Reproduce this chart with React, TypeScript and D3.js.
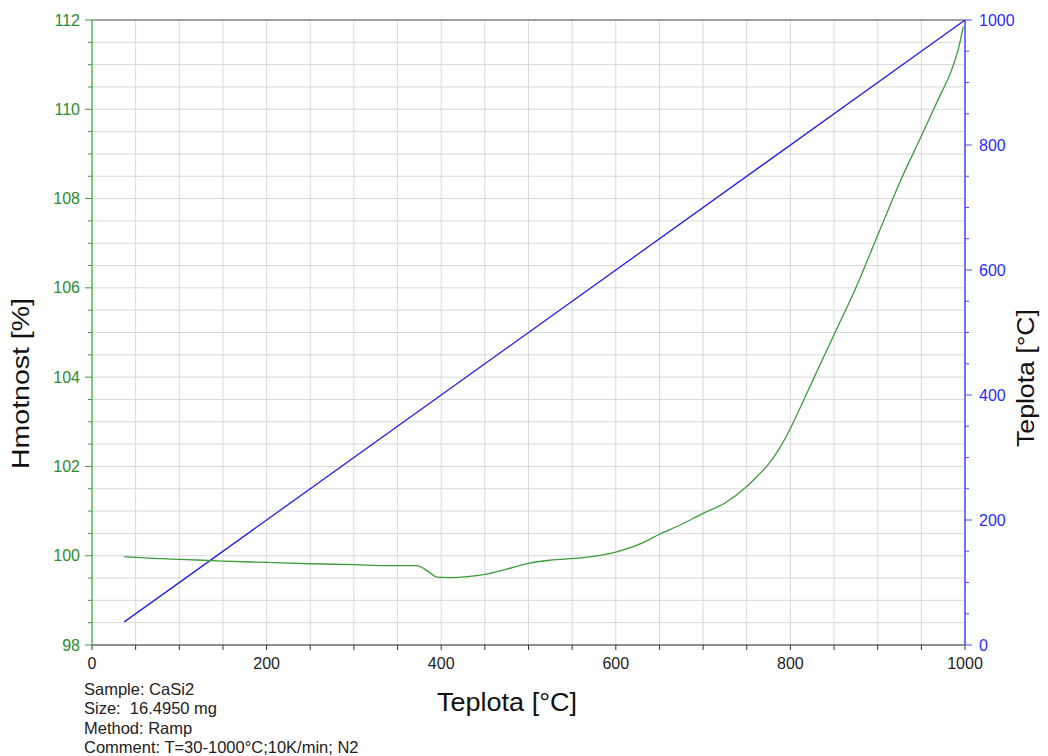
import * as d3 from "d3";

// TG curve of CaSi2 (mass % vs temperature)
const tempC = [37, 60, 100, 150, 200, 250, 300, 340, 372, 385, 395, 410, 430, 450, 475, 500, 525, 560, 600, 630, 650, 675, 700, 725, 750, 762, 775, 788, 800, 812, 825, 850, 875, 900, 925, 950, 970, 985, 993, 998];
const massPct = [99.98, 99.95, 99.92, 99.88, 99.85, 99.82, 99.8, 99.78, 99.78, 99.65, 99.52, 99.51, 99.53, 99.58, 99.7, 99.83, 99.9, 99.95, 100.08, 100.28, 100.48, 100.7, 100.95, 101.18, 101.55, 101.78, 102.05, 102.42, 102.85, 103.35, 103.9, 104.95, 106.0, 107.18, 108.35, 109.4, 110.25, 110.9, 111.4, 111.85];

// furnace temperature ramp
const rampX = [37, 1000];
const rampT = [37, 1000];

const xTicks = [0, 200, 400, 600, 800, 1000];
const massTicks = [98, 100, 102, 104, 106, 108, 110, 112];
const tempTicks = [0, 200, 400, 600, 800, 1000];

const infoLines = ["Sample: CaSi2", "Size:  16.4950 mg", "Method: Ramp", "Comment: T=30-1000°C;10K/min; N2"];

const W = 1048, H = 756;
const m = {left: 92, top: 20, right: 83, bottom: 111};

export default function App() {
    const x = d3.scaleLinear().domain([0, 1000]).range([m.left, W - m.right]);
    const yL = d3.scaleLinear().domain([98, 112]).range([H - m.bottom, m.top]);
    const yR = d3.scaleLinear().domain([0, 1000]).range([H - m.bottom, m.top]);

    const x0 = m.left, x1 = W - m.right, y0 = H - m.bottom, y1 = m.top;

    const vGrid = d3.range(0, 1001, 50);
    const hGrid = d3.range(98, 112.01, 0.5);
    const rTicks = d3.range(0, 1001, 50);

    const massLine = d3.line<number>().x((d, i) => x(tempC[i])).y(d => yL(d)).curve(d3.curveMonotoneX)(massPct) || "";
    const rampLine = d3.line<number>().x((d, i) => x(rampX[i])).y(d => yR(d))(rampT) || "";

    const font = "'Liberation Sans', Arial, sans-serif";

    return (
        <svg width={W} height={H} style={{position: "absolute", left: 0, top: 0, background: "#fff"}} fontFamily={font}>
            {/* grid */}
            {vGrid.map(v => (
                <line key={"v" + v} x1={x(v)} x2={x(v)} y1={y1} y2={y0} stroke="#d9d9d9" strokeWidth={1}/>
            ))}
            {hGrid.map(v => (
                <line key={"h" + v} x1={x0} x2={x1} y1={yL(v)} y2={yL(v)} stroke="#d9d9d9" strokeWidth={1}/>
            ))}

            {/* frame */}
            <line x1={x0} x2={x1} y1={y1} y2={y1} stroke="#8a8a8a" strokeWidth={1.5}/>
            <line x1={x0} x2={x1} y1={y0} y2={y0} stroke="#333" strokeWidth={1}/>
            <line x1={x0} x2={x0} y1={y1} y2={y0} stroke="#5cb85c" strokeWidth={1.5}/>
            <line x1={x1} x2={x1} y1={y1} y2={y0} stroke="#4d4dff" strokeWidth={1.5}/>

            {/* bottom ticks */}
            {vGrid.map(v => (
                <line key={"bt" + v} x1={x(v)} x2={x(v)} y1={y0} y2={y0 + 5} stroke="#333"/>
            ))}
            {xTicks.map(v => (
                <text key={"bl" + v} x={x(v)} y={y0 + 24} textAnchor="middle" fontSize={16} fill="#222">{v}</text>
            ))}

            {/* left ticks */}
            {hGrid.map(v => {
                const major = Math.abs(v % 2) < 1e-6;
                return <line key={"lt" + v} x1={x0 - (major ? 7 : 4)} x2={x0} y1={yL(v)} y2={yL(v)} stroke="#3a9a3a"/>;
            })}
            {massTicks.map(v => (
                <text key={"ll" + v} x={x0 - 12} y={yL(v)} dy="0.35em" textAnchor="end" fontSize={16} fill="#2e8b2e">{v}</text>
            ))}

            {/* right ticks */}
            {rTicks.map(v => {
                const major = v % 200 === 0;
                return <line key={"rt" + v} x1={x1} x2={x1 + (major ? 7 : 4)} y1={yR(v)} y2={yR(v)} stroke="#4d4dff"/>;
            })}
            {tempTicks.map(v => (
                <text key={"rl" + v} x={x1 + 14} y={yR(v)} dy="0.35em" textAnchor="start" fontSize={16} fill="#2b2bff">{v}</text>
            ))}

            {/* series */}
            <path d={rampLine} fill="none" stroke="#1f1fe6" strokeWidth={1.3}/>
            <path d={massLine} fill="none" stroke="#3c9c3c" strokeWidth={1.3}/>

            {/* titles */}
            <text x={507} y={711} textAnchor="middle" fontSize={25} fill="#111" textLength={140} lengthAdjust="spacingAndGlyphs">Teplota [°C]</text>
            <text transform="translate(29,383.5) rotate(-90)" textAnchor="middle" fontSize={23} fill="#111" textLength={171} lengthAdjust="spacingAndGlyphs">Hmotnost [%]</text>
            <text transform="translate(1034,378) rotate(-90)" textAnchor="middle" fontSize={23} fill="#111" textLength={138} lengthAdjust="spacingAndGlyphs">Teplota [°C]</text>

            {/* sample info */}
            {infoLines.map((t, i) => (
                <text key={t} x={84} y={694.5 + i * 19.5} fontSize={16.5} fill="#222" style={{whiteSpace: "pre"}}>{t}</text>
            ))}
        </svg>
    );
}
